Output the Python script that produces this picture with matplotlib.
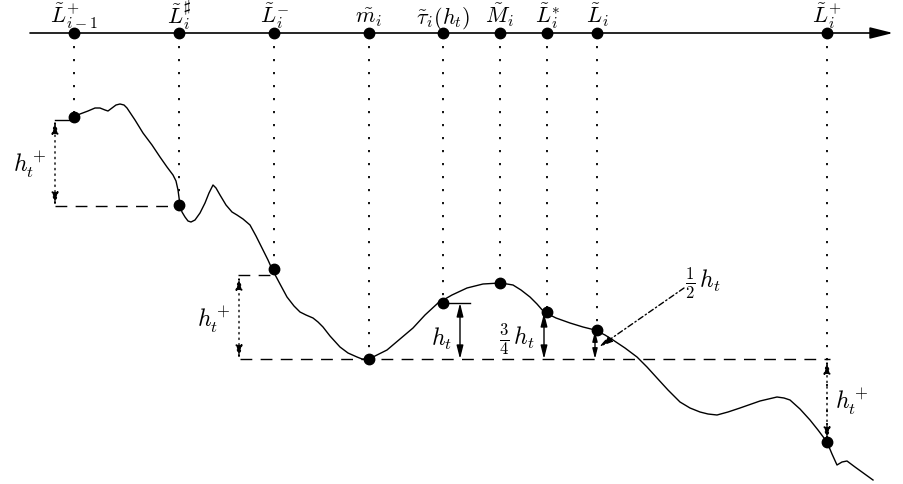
import numpy as np
import matplotlib.pyplot as plt

plt.rcParams['mathtext.fontset'] = 'cm'

# positions on the time axis (pixel-like units) and their labels
tick_x = [74, 179, 274, 369, 443, 500, 547, 597, 827]
tick_labels = [r'$\tilde{L}^{+}_{i-1}$', r'$\tilde{L}^{♯}_{i}$', r'$\tilde{L}^{-}_{i}$',
               r'$\tilde{m}_i$', r'$\tilde{\tau}_i(h_t)$', r'$\tilde{M}_i$',
               r'$\tilde{L}^{*}_{i}$', r'$\tilde{L}_i$', r'$\tilde{L}^{+}_{i}$']
# curve value at each marked time
tick_y = [117, 205, 269, 359, 303, 283, 312, 330, 442]

# the path
path_x = [74, 80, 88, 95, 100, 105, 108, 112, 116, 120, 124, 127, 135, 143, 152, 160, 167, 173,
          176, 178, 180, 182, 185, 188, 191, 195, 200, 205, 209, 213, 216, 220, 226, 232, 237,
          243, 250, 256, 263, 268, 272, 280, 287, 294, 300, 306, 313, 318, 323, 330, 340, 348,
          357, 362, 368, 375, 387, 400, 413, 425, 438, 452, 467, 483, 500, 507, 513, 521, 530,
          537, 544, 556, 570, 583, 595, 605, 613, 625, 637, 647, 657, 668, 680, 690, 700, 708,
          717, 728, 740, 760, 777, 784, 790, 800, 810, 818, 827, 832, 837, 842, 847, 855, 873]
path_y = [117, 114, 111, 108, 108, 110, 111, 108, 105, 104, 105, 108, 120, 133, 145, 157, 167, 175,
          181, 190, 205, 212, 217, 221, 222, 220, 213, 203, 193, 185, 188, 195, 205, 212, 215,
          219, 225, 236, 250, 260, 269, 284, 297, 306, 312, 315, 318, 322, 327, 336, 347, 353,
          357, 359, 359, 356, 350, 339, 328, 315, 303, 295, 288, 284, 283, 284, 285, 290, 297,
          304, 312, 318, 323, 327, 330, 335, 340, 348, 357, 367, 378, 390, 402, 408, 412, 414,
          415, 412, 408, 401, 397, 398, 400, 409, 420, 430, 442, 454, 465, 462, 461, 467, 480]

fig = plt.figure(figsize=(9.04, 4.84), dpi=100)
ax = fig.add_axes([0, 0, 1, 1])
ax.set_xlim(0, 904)
ax.set_ylim(484, 0)
ax.axis('off')

# time axis with arrow
ax.annotate('', xy=(893, 33), xytext=(30, 33),
            arrowprops=dict(arrowstyle='-|>,head_length=1.4,head_width=0.35', color='black', lw=1.2,
                            shrinkA=0, shrinkB=0))

ax.plot(path_x, path_y, color='black', lw=1.0, solid_joinstyle='round')

dots = (0, (1.2, 6))
for x, y, lab in zip(tick_x, tick_y, tick_labels):
    ax.plot([x, x], [33, y], color='black', lw=1.3, linestyle=dots)
    ax.plot(x, 33, 'o', color='black', ms=7.5)
    ax.plot(x, y, 'o', color='black', ms=7.5)
    ax.text(x, 23.5, lab, fontsize=16, ha='center', va='baseline')

dash = (0, (8.5, 6))
# left h_t^+
ax.plot([55, 74], [120, 120], color='black', lw=1.0)
ax.plot([55, 180], [206, 206], color='black', lw=1.0, linestyle=dash)
ax.annotate('', xy=(55, 120), xytext=(55, 206),
            arrowprops=dict(arrowstyle='<|-|>,head_length=0.8,head_width=0.2', color='black',
                            lw=1.0, linestyle=(0, (1, 3)), shrinkA=0, shrinkB=0))
ax.text(30, 165, r'$h_t^+$', fontsize=17, ha='center', va='center')

# middle h_t^+
ax.plot([238, 272], [275, 275], color='black', lw=1.0, linestyle=dash)
ax.plot([240, 830], [359, 359], color='black', lw=1.0, linestyle=dash)
ax.annotate('', xy=(239, 276), xytext=(239, 359),
            arrowprops=dict(arrowstyle='<|-|>,head_length=0.8,head_width=0.2', color='black',
                            lw=1.0, linestyle=(0, (1, 3)), shrinkA=0, shrinkB=0))
ax.text(214, 320, r'$h_t^+$', fontsize=17, ha='center', va='center')

# h_t
ax.plot([438, 470], [303, 303], color='black', lw=1.0)
ax.annotate('', xy=(460, 303), xytext=(460, 359),
            arrowprops=dict(arrowstyle='<|-|>,head_length=0.8,head_width=0.2', color='black',
                            lw=1.0, shrinkA=0, shrinkB=0))
ax.text(442, 339, r'$h_t$', fontsize=17, ha='center', va='center')

# 3/4 h_t
ax.annotate('', xy=(544, 313), xytext=(544, 359),
            arrowprops=dict(arrowstyle='<|-|>,head_length=0.8,head_width=0.2', color='black',
                            lw=1.0, shrinkA=0, shrinkB=0))
ax.text(517, 340, r'$\frac{3}{4}\,h_t$', fontsize=17, ha='center', va='center')

# 1/2 h_t
ax.annotate('', xy=(595, 331), xytext=(595, 359),
            arrowprops=dict(arrowstyle='<|-|>,head_length=0.6,head_width=0.15', color='black',
                            lw=1.0, shrinkA=0, shrinkB=0))
ax.annotate('', xy=(599, 347), xytext=(684, 288),
            arrowprops=dict(arrowstyle='-|>,head_length=0.8,head_width=0.2', color='black',
                            lw=1.0, linestyle=(0, (4, 2, 1, 2)), shrinkA=0, shrinkB=0))
ax.text(703, 283, r'$\frac{1}{2}\,h_t$', fontsize=17, ha='center', va='center')

# right h_t^+
ax.annotate('', xy=(827, 360), xytext=(827, 441),
            arrowprops=dict(arrowstyle='<|-|>,head_length=0.8,head_width=0.2', color='black',
                            lw=1.0, linestyle=(0, (1, 3)), shrinkA=0, shrinkB=0))
ax.text(852, 402, r'$h_t^+$', fontsize=17, ha='center', va='center')

fig.savefig('out.png', dpi=100)
